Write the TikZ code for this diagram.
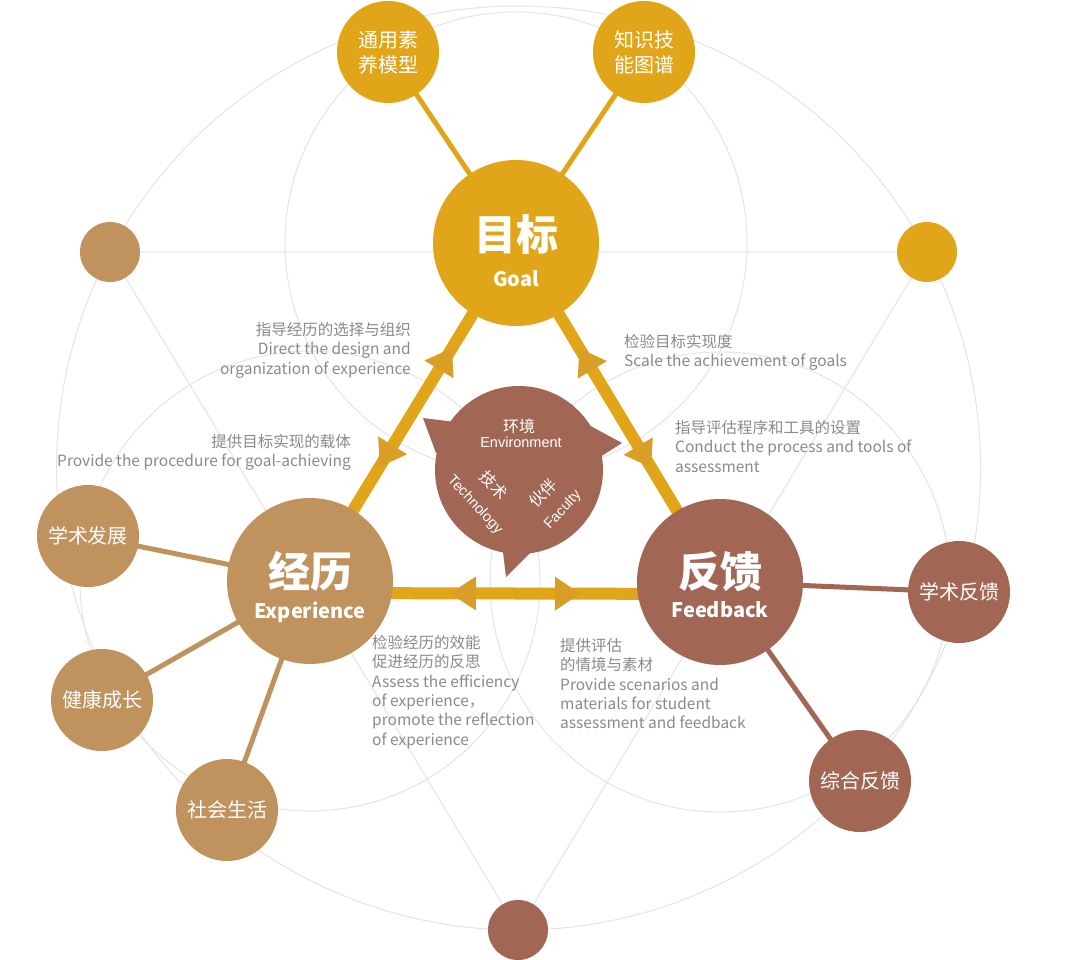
\documentclass[tikz,border=0pt]{standalone}
\usepackage{fontspec}
\setmainfont{Noto Sans CJK SC}
\newfontfamily\arialf{Liberation Sans}
\usetikzlibrary{calc}
\definecolor{cgoal}{HTML}{E1A51A}
\definecolor{chead}{HTML}{D99E26}
\definecolor{cexp}{HTML}{C0925D}
\definecolor{cfb}{HTML}{A26654}
\definecolor{notegray}{HTML}{8A8A8A}
\definecolor{gridgray}{HTML}{E4E4E4}
\pgfdeclarelayer{back}
\pgfdeclarelayer{mid}
\pgfsetlayers{back,mid,main}
\newcommand\mkhead[4]{%
  \path ($(#1)!#4!(#2)$) coordinate (hb) ($(#1)!#3!(#2)$) coordinate (ht);
  \fill[chead] (ht) -- ($(hb)!17pt!90:(#2)$) -- ($(hb)!17pt!-90:(#2)$) -- cycle;}
\begin{document}
\begin{tikzpicture}[x=1pt,y=-1pt,
  gridline/.style={draw=gridgray, line width=1pt},
  bignode/.style={circle, inner sep=0pt, minimum size=166pt},
  subnode/.style={circle, inner sep=0pt, minimum size=102pt, text=white,
    font=\fontsize{20}{25}\selectfont, align=center},
  dotnode/.style={circle, inner sep=0pt, minimum size=60pt},
  titletext/.style={text=white, font=\fontsize{42}{46}\selectfont\bfseries, inner sep=0pt},
  subtext/.style={text=white, font=\fontsize{20}{24}\selectfont\bfseries, inner sep=0pt, anchor=base},
  note/.style={text=notegray, font=\fontsize{15.5}{19.4}\selectfont, inner sep=0pt},
  mainline/.style={draw=cgoal, line width=12pt},
  spoke/.style={line width=5pt},
  bubcn/.style={text=white, font=\fontsize{16}{18}\selectfont, inner sep=0pt},
  buben/.style={text=white, font=\arialf\fontsize{14.5}{16}\selectfont, inner sep=0pt},
]
\useasboundingbox (0,0) rectangle (1080,960);
\begin{pgfonlayer}{back}
  \fill[white] (0,0) rectangle (1080,960);
\end{pgfonlayer}

% main nodes
\node[bignode, fill=cgoal] (goal) at (516,243) {};
\node[bignode, fill=cexp] (exp) at (310,581) {};
\node[bignode, fill=cfb] (fb) at (720,582) {};
\node[subnode, fill=cgoal] (tyss) at (388,52) {通用素\\养模型};
\node[subnode, fill=cgoal] (zsjn) at (644,52) {知识技\\能图谱};
\node[subnode, fill=cexp] (xsfz) at (88,536) {学术发展};
\node[subnode, fill=cexp] (jkcz) at (102,700) {健康成长};
\node[subnode, fill=cexp] (shsh) at (227,810) {社会生活};
\node[subnode, fill=cfb] (xsfk) at (959,592) {学术反馈};
\node[subnode, fill=cfb] (zhfk) at (860,781) {综合反馈};
\node[dotnode, fill=cexp] (dl) at (110,252) {};
\node[dotnode, fill=cgoal] (dr) at (927,252) {};
\node[dotnode, fill=cfb] (db) at (518,930) {};

\node[titletext] (goalcn) at (516,235) {目标};
\node[subtext] (goalen) at (516,287) {Goal};
\node[titletext] (expcn) at (310,571) {经历};
\node[subtext] (expen) at (310,618) {Experience};
\node[titletext] (fbcn) at (720,572) {反馈};
\node[subtext] (fben) at (720,617) {Feedback};

% background grid
\begin{pgfonlayer}{back}
  \coordinate (bigc) at (518.5,468);
  \draw[gridline] (bigc) circle[radius=462pt];
  \draw[gridline] (goal.center) circle[radius=231pt];
  \draw[gridline] (exp.center) circle[radius=230pt];
  \draw[gridline] (fb.center) circle[radius=230pt];
  \draw[gridline] (dl.center) -- (dr.center) -- (db.center) -- cycle;
\end{pgfonlayer}

% connectors
\begin{pgfonlayer}{mid}
  \draw[mainline] (goal.center) -- (exp.center);
  \draw[mainline] (goal.center) -- (fb.center);
  \coordinate (hl) at ([yshift=-12pt]exp.center);
  \coordinate (hr) at ([yshift=-12pt]fb.center);
  \draw[mainline] (hl) -- (hr);
  \draw[spoke, draw=cgoal] (goal.center) -- (tyss.center);
  \draw[spoke, draw=cgoal] (goal.center) -- (zsjn.center);
  \draw[spoke, draw=cexp] (exp.center) -- (xsfz.center);
  \draw[spoke, draw=cexp] (exp.center) -- (jkcz.center);
  \draw[spoke, draw=cexp] (exp.center) -- (shsh.center);
  \draw[spoke, draw=cfb] (fb.center) -- (xsfk.center);
  \draw[spoke, draw=cfb] (fb.center) -- (zhfk.center);
\end{pgfonlayer}

% arrow heads
\mkhead{goal}{exp}{123pt}{148pt}
\mkhead{goal}{exp}{262pt}{237pt}
\mkhead{goal}{fb}{123pt}{148pt}
\mkhead{goal}{fb}{262pt}{237pt}
\mkhead{hl}{hr}{140pt}{166pt}
\mkhead{hl}{hr}{270pt}{245pt}

% speech bubble
\node[circle, fill=cfb, inner sep=0pt, minimum size=168pt] (bubble) at (519,470) {};
\fill[cfb] (423,418) -- (455,422) -- (bubble.center) -- (436,453) -- cycle;
\fill[cfb] (622,443) -- (585,423) -- (bubble.center) -- (600,457) -- cycle;
\fill[cfb] (506,577) -- (503,552) -- (bubble.center) -- (540,543) -- cycle;
\node[bubcn] (envcn) at (519,426) {环境};
\node[buben, anchor=base] (enven) at (521,447.5) {Environment};
\node[bubcn, rotate=-47] (techcn) at (494,485) {技术};
\node[buben, rotate=-47] (techen) at (475,505) {Technology};
\node[bubcn, rotate=47] (faccn) at (543,493) {伙伴};
\node[buben, rotate=47] (facen) at (563,510) {Faculty};

% notes
\node[note, anchor=north east, align=right] (n1) at (411,322)
  {指导经历的选择与组织\\Direct the design and\\organization of experience};
\node[note, anchor=north east, align=right] (n2) at (351,434)
  {提供目标实现的载体\\Provide the procedure for goal-achieving};
\node[note, anchor=north west, align=left] (n3) at (624,334)
  {检验目标实现度\\Scale the achievement of goals};
\node[note, anchor=north west, align=left] (n4) at (675,420)
  {指导评估程序和工具的设置\\Conduct the process and tools of\\assessment};
\node[note, anchor=north west, align=left] (n5) at (372,635)
  {检验经历的效能\\促进经历的反思\\Assess the efficiency\\of experience，\\promote the reflection\\of experience};
\node[note, anchor=north west, align=left] (n6) at (560,638)
  {提供评估\\的情境与素材\\Provide scenarios and\\materials for student\\assessment and feedback};
\end{tikzpicture}
\end{document}
